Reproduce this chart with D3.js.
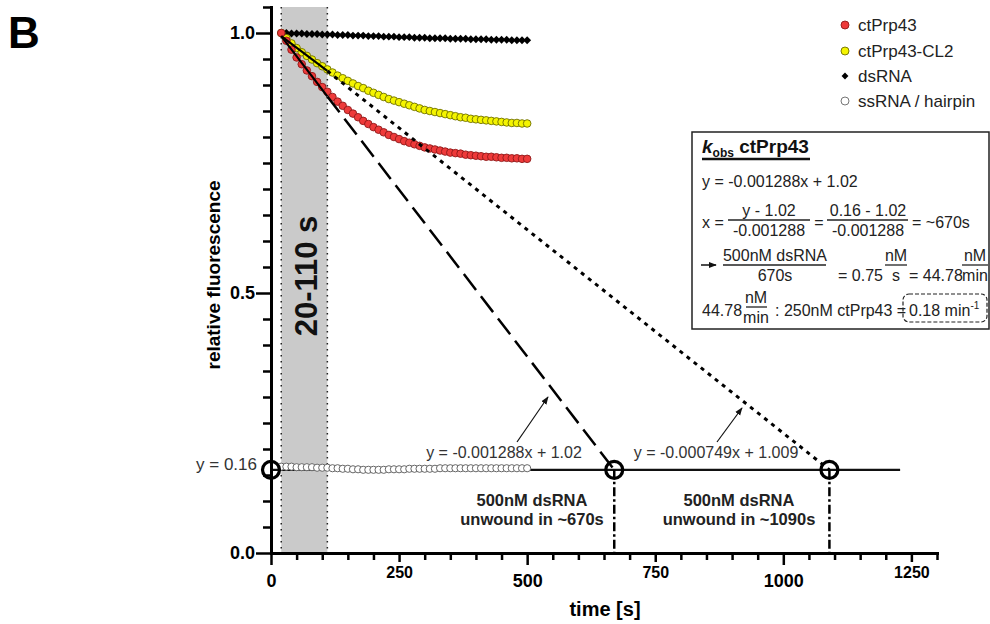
<!DOCTYPE html>
<html>
<head>
<meta charset="utf-8">
<script src="https://cdn.jsdelivr.net/npm/d3@7"></script>
<style>
body { margin: 0; background: #fff; }
text { font-family: "Liberation Sans", Arial, sans-serif; }
</style>
</head>
<body>
<script>
// time points [s]
var time = [20, 30, 40, 50, 60, 70, 80, 90, 100, 110, 120, 130, 140, 150, 160, 170, 180, 190, 200,
  210, 220, 230, 240, 250, 260, 270, 280, 290, 300, 310, 320, 330, 340, 350, 360, 370, 380, 390, 400,
  410, 420, 430, 440, 450, 460, 470, 480, 490, 500];

var ctPrp43 = [1.000, 0.985, 0.968, 0.953, 0.940, 0.928, 0.917, 0.906, 0.896, 0.887, 0.877, 0.868,
  0.860, 0.852, 0.845, 0.838, 0.831, 0.825, 0.819, 0.814, 0.809, 0.804, 0.800, 0.796, 0.792, 0.789,
  0.786, 0.783, 0.780, 0.778, 0.776, 0.774, 0.772, 0.770, 0.769, 0.768, 0.766, 0.765, 0.764, 0.763,
  0.762, 0.762, 0.761, 0.760, 0.760, 0.759, 0.759, 0.758, 0.758];

var ctPrp43CL2 = [1.000, 0.990, 0.980, 0.971, 0.963, 0.956, 0.949, 0.942, 0.936, 0.930, 0.924, 0.918,
  0.913, 0.908, 0.903, 0.898, 0.894, 0.889, 0.885, 0.881, 0.877, 0.873, 0.870, 0.867, 0.864, 0.861,
  0.858, 0.855, 0.852, 0.850, 0.848, 0.846, 0.844, 0.842, 0.840, 0.838, 0.837, 0.835, 0.834, 0.833,
  0.832, 0.831, 0.830, 0.829, 0.828, 0.827, 0.827, 0.826, 0.826];

var dsRNA = [1.000, 1.000, 0.999, 0.999, 0.999, 0.998, 0.998, 0.998, 0.997, 0.997, 0.997, 0.996,
  0.996, 0.996, 0.995, 0.995, 0.995, 0.994, 0.994, 0.994, 0.993, 0.993, 0.993, 0.992, 0.992, 0.992,
  0.991, 0.991, 0.991, 0.990, 0.990, 0.990, 0.990, 0.989, 0.989, 0.989, 0.989, 0.988, 0.988, 0.988,
  0.988, 0.987, 0.987, 0.987, 0.987, 0.986, 0.986, 0.986, 0.986];

var ssRNA = [0.166, 0.166, 0.166, 0.165, 0.165, 0.165, 0.165, 0.164, 0.164, 0.164, 0.163, 0.163,
  0.162, 0.162, 0.161, 0.161, 0.160, 0.160, 0.160, 0.160, 0.160, 0.161, 0.161, 0.161, 0.161, 0.162,
  0.162, 0.162, 0.162, 0.162, 0.162, 0.163, 0.163, 0.163, 0.163, 0.163, 0.163, 0.163, 0.163, 0.163,
  0.163, 0.163, 0.163, 0.163, 0.163, 0.163, 0.163, 0.163, 0.163];

// linear fits over the 20-110 s window, continued to y = 0.16
var fitCtPrp43 = [[20, 0.994], [110, 0.878], [670, 0.16]];
var fitCL2 = [[20, 0.994], [110, 0.927], [1090, 0.16]];
var fitWindow = [20, 110];
var endLevel = 0.16;
var unwoundTimes = [0, 670, 1090];
var levelLineEnd = 1228;

var legendLabels = ["ctPrp43", "ctPrp43-CL2", "dsRNA", "ssRNA / hairpin"];
var xTickLabels = ["0", "250", "500", "750", "1000", "1250"];
var yTickLabels = ["0.0", "0.5", "1.0"];

var svg = d3.select("body").append("svg")
    .attr("width", 990)
    .attr("height", 624)

var x = d3.scaleLinear().domain([0, 1300]).range([271, 937]);
var y = d3.scaleLinear().domain([0, 1.05]).range([553, 7]);

// grey window 20-110 s
svg.append("rect")
    .attr("x", x(fitWindow[0]))
    .attr("y", y(1.05))
    .attr("width", x(fitWindow[1]) - x(fitWindow[0]))
    .attr("height", y(0) - y(1.05))
    .attr("fill", "#cacaca")

fitWindow.forEach(function (t) {
    svg.append("line")
        .attr("x1", x(t)).attr("x2", x(t))
        .attr("y1", y(1.05)).attr("y2", y(0))
        .style("stroke", "#222")
        .style("stroke-width", 1.5)
        .style("stroke-dasharray", "1.5,4.5")
})

svg.append("text")
    .attr("transform", "translate(317," + 276 + ") rotate(-90)")
    .attr("text-anchor", "middle")
    .text("20-110 s")
    .style("font-size", "31px")
    .style("font-weight", "bold")
    .attr("fill", "#111")

// y = 0.16 level
svg.append("line")
    .attr("x1", x(0)).attr("x2", x(levelLineEnd))
    .attr("y1", y(endLevel)).attr("y2", y(endLevel))
    .style("stroke", "#111")
    .style("stroke-width", 2.2)

// data
svg.selectAll(".ss").data(time).enter().append("circle")
    .attr("cx", function (d) { return x(d); })
    .attr("cy", function (d, i) { return y(ssRNA[i]); })
    .attr("r", 3.6)
    .style("fill", "#fff")
    .style("stroke", "#666")
    .style("stroke-width", 1)

var diamond = d3.symbol().type(d3.symbolDiamond2 || d3.symbolDiamond).size(40);
svg.selectAll(".ds").data(time).enter().append("path")
    .attr("d", diamond)
    .attr("transform", function (d, i) { return "translate(" + x(d) + "," + y(dsRNA[i]) + ")"; })
    .style("fill", "#000")

svg.selectAll(".cl2").data(time).enter().append("circle")
    .attr("cx", function (d) { return x(d); })
    .attr("cy", function (d, i) { return y(ctPrp43CL2[i]); })
    .attr("r", 3.8)
    .style("fill", "#f4f400")
    .style("stroke", "#6e6e00")
    .style("stroke-width", 0.9)

svg.selectAll(".wt").data(time).enter().append("circle")
    .attr("cx", function (d) { return x(d); })
    .attr("cy", function (d, i) { return y(ctPrp43[i]); })
    .attr("r", 3.8)
    .style("fill", "#ee3a3a")
    .style("stroke", "#8e1a1a")
    .style("stroke-width", 0.9)

// fit lines
var line = d3.line().x(function (d) { return x(d[0]); }).y(function (d) { return y(d[1]); });
[fitCtPrp43, fitCL2].forEach(function (f, k) {
    svg.append("path").attr("d", line(f.slice(0, 2)))
        .style("fill", "none").style("stroke", "#000").style("stroke-width", 2.2)
    svg.append("path").attr("d", line(f.slice(1)))
        .style("fill", "none").style("stroke", "#000")
        .style("stroke-width", k === 0 ? 2.5 : 3)
        .style("stroke-dasharray", k === 0 ? "20,8" : "4,5")
})

// drop lines to the time axis
unwoundTimes.slice(1).forEach(function (t) {
    svg.append("line")
        .attr("x1", x(t)).attr("x2", x(t))
        .attr("y1", y(endLevel)).attr("y2", y(0))
        .style("stroke", "#000")
        .style("stroke-width", 2.5)
        .style("stroke-dasharray", "9,3,2.5,3")
})

unwoundTimes.forEach(function (t) {
    svg.append("circle")
        .attr("cx", x(t)).attr("cy", y(endLevel))
        .attr("r", 8.5)
        .style("fill", "none")
        .style("stroke", "#000")
        .style("stroke-width", 3.2)
})

// axes
var xAxis = svg.append("g")
    .attr("transform", "translate(0," + y(0) + ")")
    .call(d3.axisBottom(x).tickValues(d3.range(0, 1301, 50)).tickSizeOuter(0)
        .tickFormat(function (d) { return xTickLabels.indexOf(String(d)) >= 0 ? d : ""; }))
xAxis.select(".domain").style("stroke", "#000").style("stroke-width", 3).style("stroke-linecap", "square")
xAxis.selectAll(".tick line").style("stroke", "#000").style("stroke-width", 2.5)
    .attr("y2", function (d) { return d % 500 === 0 ? 12 : (d % 250 === 0 ? 9 : 7); })
xAxis.selectAll(".tick text")
    .attr("y", function (d) { return d % 500 === 0 ? 34 : 25; })
    .attr("dy", 0)
    .style("font-size", function (d) { return d % 500 === 0 ? "18px" : "16px"; })
    .style("font-weight", "bold")
    .attr("fill", "#000")

var fmt = d3.format(".1f");
var yAxis = svg.append("g")
    .attr("transform", "translate(" + x(0) + ",0)")
    .call(d3.axisLeft(y).tickValues(d3.range(0, 22).map(function (i) { return +(i * 0.05).toFixed(2); }))
        .tickSizeOuter(0)
        .tickFormat(function (d) { return yTickLabels.indexOf(fmt(d)) >= 0 && Math.abs(d * 2 - Math.round(d * 2)) < 1e-6 ? fmt(d) : ""; }))
yAxis.select(".domain").style("stroke", "#000").style("stroke-width", 3).style("stroke-linecap", "square")
yAxis.selectAll(".tick line").style("stroke", "#000").style("stroke-width", 2.5)
    .attr("x2", function (d) { return Math.abs(d * 2 - Math.round(d * 2)) < 1e-6 ? -15 : -8; })
yAxis.selectAll(".tick text")
    .attr("x", -16)
    .style("font-size", "18px")
    .style("font-weight", "bold")
    .attr("fill", "#000")

svg.append("text")
    .attr("x", 605).attr("y", 616)
    .attr("text-anchor", "middle")
    .text("time [s]")
    .style("font-size", "20px")
    .style("font-weight", "bold")

svg.append("text")
    .attr("transform", "translate(220,275) rotate(-90)")
    .attr("text-anchor", "middle")
    .text("relative fluorescence")
    .style("font-size", "19px")
    .style("font-weight", "bold")

svg.append("text")
    .attr("x", 8).attr("y", 48)
    .text("B")
    .style("font-size", "44px")
    .style("font-weight", "bold")

// annotations in the plot
svg.append("text")
    .attr("x", 257).attr("y", 470)
    .attr("text-anchor", "end")
    .text("y = 0.16")
    .style("font-size", "17px")
    .attr("fill", "#333")

svg.append("text")
    .attr("x", 504).attr("y", 458)
    .attr("text-anchor", "middle")
    .text("y = -0.001288x + 1.02")
    .style("font-size", "16px")
    .attr("fill", "#333")

svg.append("text")
    .attr("x", 716).attr("y", 458)
    .attr("text-anchor", "middle")
    .text("y = -0.000749x + 1.009")
    .style("font-size", "16px")
    .attr("fill", "#333")

var defs = svg.append("defs");
defs.append("marker")
    .attr("id", "ah")
    .attr("viewBox", "0 0 10 10")
    .attr("refX", 9).attr("refY", 5)
    .attr("markerWidth", 8).attr("markerHeight", 8)
    .attr("markerUnits", "userSpaceOnUse")
    .attr("orient", "auto")
    .append("path").attr("d", "M0,1.2 L10,5 L0,8.8 Z").style("fill", "#111")

svg.append("line").attr("x1", 517).attr("y1", 442).attr("x2", 548).attr("y2", 397)
    .style("stroke", "#111").style("stroke-width", 1.2).attr("marker-end", "url(#ah)")
svg.append("line").attr("x1", 717).attr("y1", 442).attr("x2", 742).attr("y2", 408)
    .style("stroke", "#111").style("stroke-width", 1.2).attr("marker-end", "url(#ah)")

var unwound = [["500nM dsRNA", "unwound in ~670s", 532], ["500nM dsRNA", "unwound in ~1090s", 739]];
unwound.forEach(function (u) {
    svg.append("text").attr("x", u[2]).attr("y", 506).attr("text-anchor", "middle")
        .text(u[0]).style("font-size", "16.5px").style("font-weight", "bold").attr("fill", "#222")
    svg.append("text").attr("x", u[2]).attr("y", 525).attr("text-anchor", "middle")
        .text(u[1]).style("font-size", "16.5px").style("font-weight", "bold").attr("fill", "#222")
})

// legend
var legendY = [25, 51, 76, 101];
legendLabels.forEach(function (name, i) {
    if (i === 2) {
        svg.append("path")
            .attr("d", d3.symbol().type(d3.symbolDiamond2 || d3.symbolDiamond).size(30))
            .attr("transform", "translate(845," + legendY[i] + ")")
            .style("fill", "#000")
    } else {
        svg.append("circle")
            .attr("cx", 845).attr("cy", legendY[i]).attr("r", 4)
            .style("fill", ["#ee3a3a", "#f4f400", null, "#fff"][i])
            .style("stroke", ["#8e1a1a", "#6e6e00", null, "#666"][i])
            .style("stroke-width", 0.9)
    }
    svg.append("text")
        .attr("x", 858).attr("y", legendY[i] + 6)
        .text(name)
        .style("font-size", "17px")
        .attr("fill", "#222")
})

// k_obs box
svg.append("rect")
    .attr("x", 692).attr("y", 132)
    .attr("width", 297).attr("height", 197)
    .style("fill", "#fff")
    .style("stroke", "#222")
    .style("stroke-width", 1.5)

function label(xp, yp, s, anchor) {
    return svg.append("text")
        .attr("x", xp).attr("y", yp)
        .attr("text-anchor", anchor || "start")
        .text(s)
        .style("font-size", "16px")
        .attr("fill", "#222");
}
function frac(cx, x1, x2, ly, num, den) {
    svg.append("line").attr("x1", x1).attr("x2", x2).attr("y1", ly).attr("y2", ly)
        .style("stroke", "#222").style("stroke-width", 1.3)
    label(cx, ly - 4, num, "middle")
    label(cx, ly + 16, den, "middle")
}

var title = svg.append("text").attr("x", 702).attr("y", 153)
    .style("font-weight", "bold").attr("fill", "#111")
title.append("tspan").text("k").style("font-style", "italic").style("font-size", "19px")
title.append("tspan").text("obs").style("font-size", "12px").attr("dy", 4)
title.append("tspan").text(" ctPrp43").style("font-size", "19px").attr("dy", -4)
svg.append("line").attr("x1", 702).attr("x2", 810).attr("y1", 159).attr("y2", 159)
    .style("stroke", "#111").style("stroke-width", 2.5)

label(702, 187, "y = -0.001288x + 1.02")

label(702, 228, "x =")
frac(769, 728, 810, 220, "y - 1.02", "-0.001288")
label(819, 228, "=", "middle")
frac(868, 827, 908, 220, "0.16 - 1.02", "-0.001288")
label(912, 228, "= ~670s")

svg.append("line").attr("x1", 701).attr("x2", 716).attr("y1", 265).attr("y2", 265)
    .style("stroke", "#111").style("stroke-width", 1.5).attr("marker-end", "url(#ah)")
frac(775, 723, 826, 265, "500nM dsRNA", "670s")
label(838, 281, "= 0.75")
frac(896, 885, 907, 265, "nM", "s")
label(909, 281, "= 44.78")
frac(975, 962, 988, 265, "nM", "min")

label(702, 316, "44.78")
frac(756, 746, 767, 307, "nM", "min")
label(775, 316, ": 250nM ctPrp43 =")
svg.append("rect")
    .attr("x", 903).attr("y", 294)
    .attr("width", 84).attr("height", 28)
    .attr("rx", 6)
    .style("fill", "none")
    .style("stroke", "#222")
    .style("stroke-width", 1.2)
    .style("stroke-dasharray", "4,2")
var k = label(909, 316, "0.18 min")
k.append("tspan").text("-1").style("font-size", "10px").attr("dy", -7)
</script>
</body>
</html>
